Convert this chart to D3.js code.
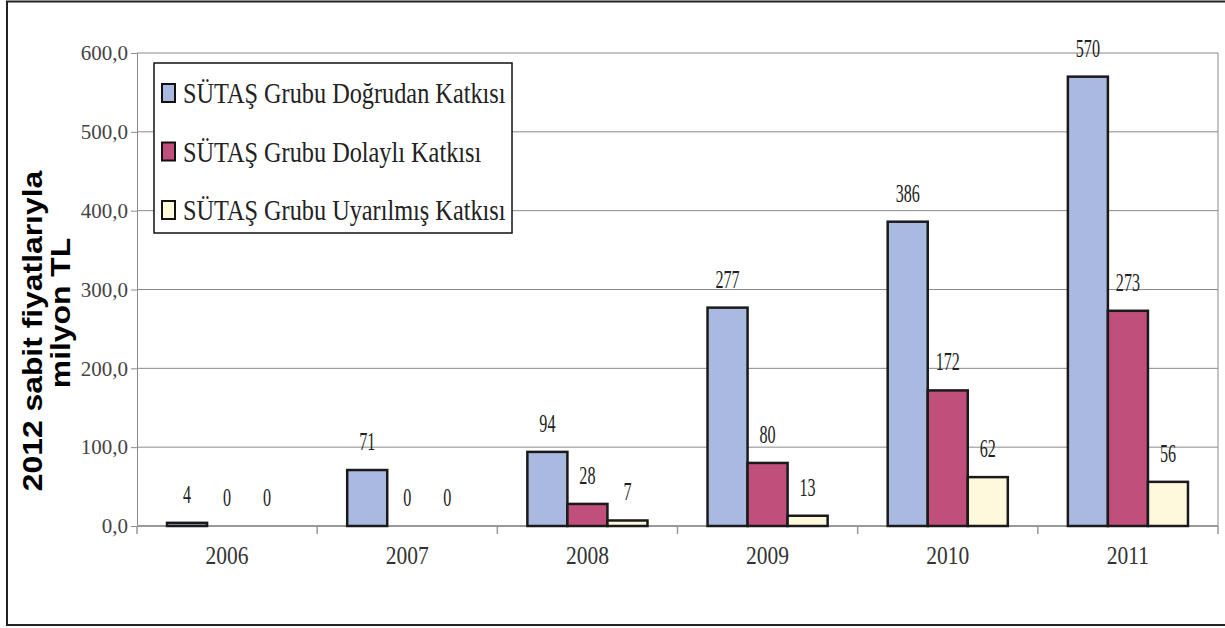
<!DOCTYPE html>
<html>
<head>
<meta charset="utf-8">
<script src="https://cdn.jsdelivr.net/npm/d3@7"></script>
<style>
  body { margin: 0; background: #fff; }
  svg { display: block; }
  .serif { font-family: "Liberation Serif", "Times New Roman", "DejaVu Serif", serif; }
  .sans { font-family: "Liberation Sans", Arial, sans-serif; font-weight: bold; }
</style>
</head>
<body>
<svg id="chart" width="1225" height="628"></svg>
<script>
const years = ['2006', '2007', '2008', '2009', '2010', '2011'];
const seriesNames = ['SÜTAŞ Grubu Doğrudan Katkısı', 'SÜTAŞ Grubu Dolaylı Katkısı', 'SÜTAŞ Grubu Uyarılmış Katkısı'];
const direct = [4, 71, 94, 277, 386, 570];
const indirect = [0, 0, 28, 80, 172, 273];
const induced = [0, 0, 7, 13, 62, 56];
const yTicks = [0, 100, 200, 300, 400, 500, 600];
const colors = ['#aab9df', '#c04f7b', '#fef8dc'];

const series = [direct, indirect, induced];
const plot = { left: 137, right: 1218, top: 53, bottom: 526 };

const svg = d3.select('#chart');

// outer frame
svg.append('rect')
  .attr('x', 7).attr('y', 1.5)
  .attr('width', 1240).attr('height', 623.5)
  .attr('fill', 'none').attr('stroke', '#222').attr('stroke-width', 2);

const x0 = d3.scaleBand().domain(years).range([plot.left, plot.right]);
const bw = x0.bandwidth();
const x1 = d3.scaleBand().domain(d3.range(series.length)).range([bw / 6, bw * 5 / 6]);
const y = d3.scaleLinear().domain([0, 600]).range([plot.bottom, plot.top]);

// grid lines
svg.append('g').selectAll('line')
  .data(yTicks.filter(d => d > 0))
  .join('line')
  .attr('x1', plot.left).attr('x2', plot.right)
  .attr('y1', d => y(d)).attr('y2', d => y(d))
  .attr('stroke', '#8a8a8a').attr('stroke-width', 1);

svg.append('line')
  .attr('x1', plot.right).attr('x2', plot.right)
  .attr('y1', y(600)).attr('y2', y(0))
  .attr('stroke', '#8a8a8a');

// y axis
const yAxis = d3.axisLeft(y)
  .tickValues(yTicks)
  .tickSize(6)
  .tickPadding(3)
  .tickFormat(d => d3.format('.1f')(d).replace('.', ','));

const yg = svg.append('g')
  .attr('transform', `translate(${plot.left},0)`)
  .call(yAxis)
  .attr('font-family', null)
  .attr('font-size', null);
yg.select('.domain').attr('stroke', '#8a8a8a');
yg.selectAll('.tick line').attr('stroke', '#8a8a8a');
yg.selectAll('.tick text')
  .attr('class', 'serif')
  .attr('font-size', 21)
  .attr('fill', '#444');

// x axis baseline and category ticks
svg.append('line')
  .attr('x1', plot.left).attr('x2', plot.right)
  .attr('y1', y(0)).attr('y2', y(0))
  .attr('stroke', '#999').attr('stroke-width', 2);

svg.append('g').selectAll('line')
  .data(years.map(d => x0(d)).concat([plot.right]))
  .join('line')
  .attr('x1', d => d).attr('x2', d => d)
  .attr('y1', y(0)).attr('y2', y(0) + 8)
  .attr('stroke', '#999').attr('stroke-width', 1.5);

svg.append('g').selectAll('text')
  .data(years)
  .join('text')
  .attr('class', 'serif')
  .attr('transform', d => `translate(${x0(d) + bw / 2},564) scale(0.86,1)`)
  .attr('text-anchor', 'middle')
  .attr('font-size', 25)
  .attr('fill', '#333')
  .text(d => d);

// bars
const cells = [];
years.forEach((yr, i) => {
  series.forEach((s, j) => cells.push({ year: yr, j, value: s[i] }));
});

svg.append('g').selectAll('rect')
  .data(cells.filter(d => d.value > 0))
  .join('rect')
  .attr('x', d => x0(d.year) + x1(d.j))
  .attr('y', d => y(d.value))
  .attr('width', x1.bandwidth())
  .attr('height', d => y(0) - y(d.value))
  .attr('fill', d => colors[d.j])
  .attr('stroke', '#1a1a1a')
  .attr('stroke-width', 2.5);

svg.append('g').selectAll('text')
  .data(cells)
  .join('text')
  .attr('class', 'serif')
  .attr('transform', d => `translate(${x0(d.year) + x1(d.j) + x1.bandwidth() / 2},${y(d.value) - 20}) scale(0.62,1)`)
  .attr('text-anchor', 'middle')
  .attr('font-size', 26)
  .attr('fill', '#222')
  .text(d => d.value);

// legend
const legend = svg.append('g');
legend.append('rect')
  .attr('x', 154).attr('y', 63)
  .attr('width', 358).attr('height', 170)
  .attr('fill', '#fff').attr('stroke', '#111').attr('stroke-width', 1.5);

const rows = legend.selectAll('g.item')
  .data(seriesNames)
  .join('g')
  .attr('class', 'item')
  .attr('transform', (d, i) => `translate(0,${93 + i * 58.5})`);

rows.append('rect')
  .attr('x', 162).attr('y', -9)
  .attr('width', 13).attr('height', 18)
  .attr('fill', (d, i) => colors[i])
  .attr('stroke', '#111').attr('stroke-width', 2);

rows.append('text')
  .attr('class', 'serif')
  .attr('transform', 'translate(183,10) scale(0.81,1)')
  .attr('font-size', 30)
  .attr('fill', '#222')
  .text(d => d);

// y title
svg.append('text')
  .attr('class', 'sans')
  .attr('transform', 'translate(32,331) rotate(-90) scale(1.18,1)')
  .attr('text-anchor', 'middle')
  .attr('dominant-baseline', 'central')
  .attr('font-size', 27)
  .attr('fill', '#000')
  .text('2012 sabit fiyatlarıyla');

svg.append('text')
  .attr('class', 'sans')
  .attr('transform', 'translate(60,313) rotate(-90) scale(1.18,1)')
  .attr('text-anchor', 'middle')
  .attr('dominant-baseline', 'central')
  .attr('font-size', 27)
  .attr('fill', '#000')
  .text('milyon TL');
</script>
</body>
</html>
